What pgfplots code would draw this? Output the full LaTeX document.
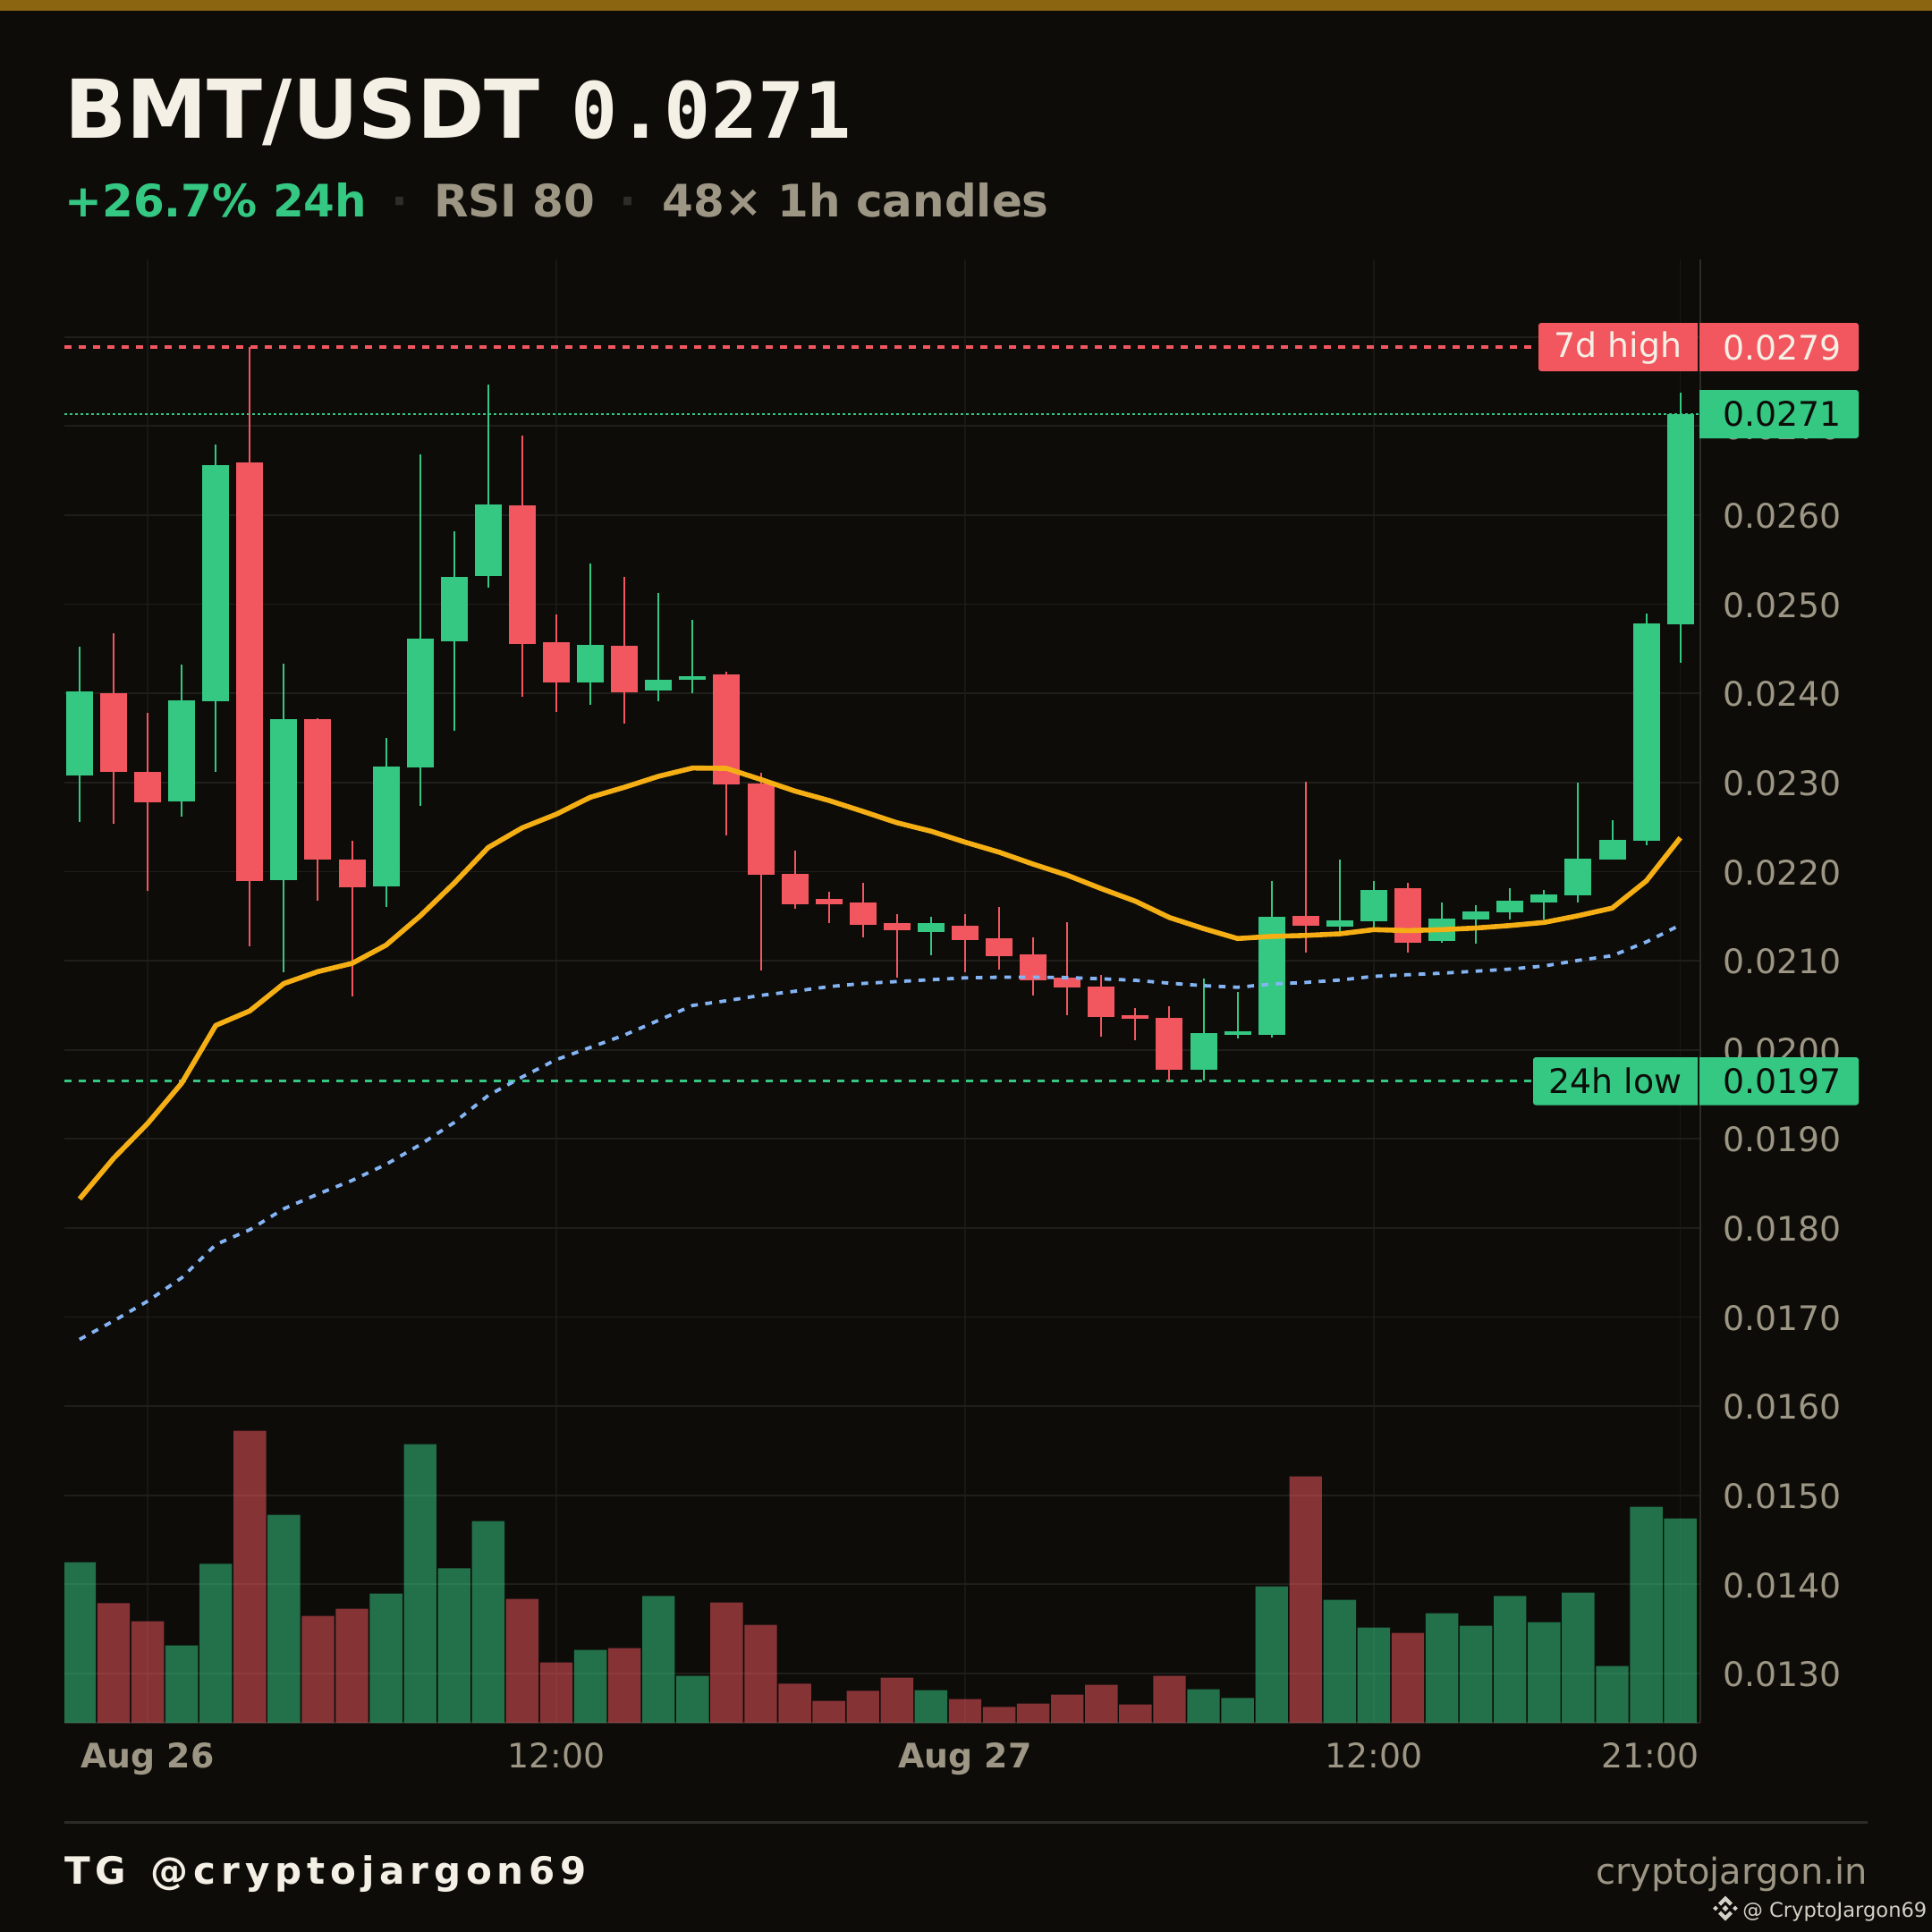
\documentclass[border=0pt]{standalone}
\usepackage{pgfplots}
\usepackage{pgfplotstable}
\usepackage{fontspec}
\pgfplotsset{compat=1.18}
\setmainfont{DejaVu Sans}
\newfontfamily\monofont{DejaVu Sans Mono}
\newfontfamily\tgfont[LetterSpace=14]{DejaVu Sans}
\definecolor{bg}{HTML}{0D0C09}
\definecolor{band}{HTML}{8C6510}
\definecolor{up}{HTML}{35C882}
\definecolor{down}{HTML}{F2575F}
\definecolor{gridc}{HTML}{1F1E1A}
\definecolor{gridv}{HTML}{191815}
\definecolor{axisc}{HTML}{2C2B26}
\definecolor{greyc}{HTML}{9D9684}
\definecolor{cream}{HTML}{F5F0E6}
\definecolor{orangec}{HTML}{F5AF14}
\definecolor{bluec}{HTML}{85B4F5}
\definecolor{dotc}{HTML}{2E2D28}
\definecolor{wmark}{HTML}{D3D0C6}
% i low bot top high
\pgfplotstableread{
i low bot top high
0 0.022552 0.023075 0.024017 0.024519
3 0.022614 0.022783 0.023925 0.024320
4 0.023116 0.023915 0.026558 0.026789
6 0.020872 0.021907 0.023715 0.024330
9 0.021599 0.021830 0.023182 0.023495
10 0.022732 0.023172 0.024612 0.026686
11 0.023577 0.024581 0.025303 0.025816
12 0.025191 0.025314 0.026118 0.027470
15 0.023869 0.024125 0.024540 0.025462
17 0.023915 0.024028 0.024156 0.025129
18 0.023997 0.024156 0.024197 0.024822
25 0.021064 0.021325 0.021417 0.021494
33 0.019658 0.019778 0.020190 0.020804
34 0.020130 0.020169 0.020211 0.020652
35 0.020141 0.020169 0.021494 0.021889
37 0.021336 0.021385 0.021455 0.022139
38 0.021371 0.021446 0.021797 0.021895
40 0.021204 0.021216 0.021475 0.021653
41 0.021187 0.021464 0.021556 0.021625
42 0.021464 0.021538 0.021676 0.021809
43 0.021458 0.021653 0.021746 0.021797
44 0.021653 0.021728 0.022149 0.023001
45 0.022130 0.022137 0.022356 0.022580
46 0.022298 0.022350 0.024785 0.024895
47 0.024342 0.024774 0.027130 0.027376
}\greentable
\pgfplotstableread{
i low bot top high
1 0.022532 0.023121 0.023997 0.024678
2 0.021779 0.022773 0.023116 0.023777
5 0.021164 0.021897 0.026589 0.027885
7 0.021676 0.022137 0.023715 0.023725
8 0.020595 0.021820 0.022137 0.022342
13 0.023966 0.024550 0.026108 0.026897
14 0.023787 0.024120 0.024571 0.024888
16 0.023664 0.024007 0.024530 0.025303
19 0.022404 0.022982 0.024208 0.024240
20 0.020885 0.021967 0.022992 0.023105
21 0.021586 0.021635 0.021977 0.022231
22 0.021417 0.021635 0.021695 0.021776
23 0.021265 0.021406 0.021656 0.021878
24 0.020814 0.021346 0.021417 0.021526
26 0.020874 0.021233 0.021396 0.021526
27 0.020902 0.021054 0.021255 0.021607
28 0.020613 0.020782 0.021075 0.021265
29 0.020391 0.020701 0.020814 0.021434
30 0.020148 0.020370 0.020712 0.020842
31 0.020109 0.020349 0.020391 0.020472
32 0.019644 0.019778 0.020359 0.020490
36 0.021093 0.021396 0.021505 0.023003
39 0.021095 0.021204 0.021809 0.021878
}\redtable
\pgfplotstableread{
i v
0 179.5
3 86.5
4 177.6
6 232.3
9 144.3
10 311.5
11 172.6
12 225.4
15 81.5
17 141.6
18 52.4
25 36.4
33 37.5
34 27.6
35 152.3
37 137.4
38 106.4
40 122.5
41 108.3
42 141.6
43 112.5
44 145.4
45 63.5
46 241.5
47 228.5
}\volgreen
\pgfplotstableread{
i v
1 133.6
2 113.3
5 326.4
7 119.4
8 127.4
13 138.5
14 67.4
16 83.4
19 134.3
20 109.5
21 43.6
22 24.5
23 35.6
24 50.5
26 26.4
27 17.6
28 21.4
29 31.4
30 42.5
31 20.3
32 52.4
36 275.5
39 100.3
}\volred
\pgfplotstableread{
i v
0 0.018325
1 0.018781
2 0.019172
3 0.019625
4 0.020273
5 0.020436
6 0.020743
7 0.020877
8 0.020969
9 0.021174
10 0.021501
11 0.021870
12 0.022270
13 0.022491
14 0.022644
15 0.022834
16 0.022946
17 0.023069
18 0.023162
19 0.023158
20 0.023034
21 0.022904
22 0.022798
23 0.022675
24 0.022548
25 0.022453
26 0.022330
27 0.022217
28 0.022083
29 0.021959
30 0.021808
31 0.021667
32 0.021484
33 0.021360
34 0.021248
35 0.021272
36 0.021283
37 0.021301
38 0.021348
39 0.021337
40 0.021348
41 0.021366
42 0.021394
43 0.021429
44 0.021504
45 0.021590
46 0.021895
47 0.022379
}\emafast
\pgfplotstableread{
i v
0 0.016748
1 0.016956
2 0.017178
3 0.017440
4 0.017813
5 0.017980
6 0.018215
7 0.018380
8 0.018533
9 0.018713
10 0.018934
11 0.019183
12 0.019487
13 0.019695
14 0.019889
15 0.020026
16 0.020165
17 0.020330
18 0.020497
19 0.020550
20 0.020610
21 0.020656
22 0.020708
23 0.020744
24 0.020765
25 0.020786
26 0.020807
27 0.020814
28 0.020814
29 0.020810
30 0.020796
31 0.020779
32 0.020747
33 0.020719
34 0.020701
35 0.020737
36 0.020755
37 0.020782
38 0.020824
39 0.020842
40 0.020859
41 0.020882
42 0.020905
43 0.020940
44 0.021003
45 0.021055
46 0.021210
47 0.021400
}\emaslow
\newcommand{\candles}[2]{%
  \addplot[draw=none,mark=none,forget plot,
    error bars/.cd,y dir=plus,y explicit,error mark=none,
    error bar style={draw=#2,line width=1pt}]
    table[x=i,y=low,y error plus expr=\thisrow{high}-\thisrow{low}] {#1};
  \addplot[draw=none,mark=none,forget plot,
    error bars/.cd,y dir=plus,y explicit,error mark=none,
    error bar style={draw=#2,line width=15pt}]
    table[x=i,y=bot,y error plus expr=\thisrow{top}-\thisrow{bot}] {#1};
}
\begin{document}
\begin{tikzpicture}
\fill[bg,use as bounding box] (0,0) rectangle (1080pt,-1080pt);
\fill[band] (0,0) rectangle (1080pt,-6pt);
\begin{axis}[
  at={(36pt,-963pt)},anchor=south west,
  width=914.5pt,height=818pt,scale only axis,
  xmin=-0.444,xmax=47.587,ymin=0.012446,ymax=0.028871,
  axis x line=bottom,axis y line=right,
  axis line style={-,draw=axisc,line width=1.2pt},
  major tick length=0pt,
  xmajorgrids=true,ymajorgrids=true,
  x grid style={draw=gridv,line width=0.7pt},
  y grid style={draw=gridc,line width=0.9pt},
  xtick={2,14,26,38,47},
  xticklabels={\bfseries Aug 26,12:00,\bfseries Aug 27,12:00,\makebox[0pt][r]{21:00\kern-10.5pt}},
  ytick={0.013,0.014,0.015,0.016,0.017,0.018,0.019,0.020,0.021,0.022,0.023,0.024,0.025,0.026,0.027,0.028},
  scaled y ticks=false,
  y tick label style={/pgf/number format/fixed,/pgf/number format/fixed zerofill,/pgf/number format/precision=4,
    /pgf/number format/assume math mode=true,anchor=west,inner sep=0pt,xshift=12.5pt,yshift=-0.5pt,
    font=\fontsize{18.9}{22}\selectfont,text=greyc},
  x tick label style={inner sep=0pt,anchor=base,yshift=-25pt,
    font=\fontsize{18.9}{22}\selectfont,text=greyc},
]
\addplot[down,line width=1.8pt,dash pattern=on 4pt off 4pt,forget plot] coordinates {(-0.444,0.027885)(42.8,0.027885)};
\addplot[up,line width=0.8pt,dash pattern=on 1.5pt off 1.5pt,forget plot] coordinates {(-0.444,0.027133)(47.587,0.027133)};
\addplot[up,line width=1.8pt,dash pattern=on 4pt off 4pt,forget plot] coordinates {(-0.444,0.019650)(42.7,0.019650)};
\candles{\greentable}{up}
\candles{\redtable}{down}
\addplot[bluec,line width=1.9pt,dash pattern=on 3.8pt off 4.2pt,forget plot] table[x=i,y=v] {\emaslow};
\addplot[orangec,line width=2.8pt,line join=round,forget plot] table[x=i,y=v] {\emafast};
\end{axis}
\begin{axis}[
  at={(36pt,-963pt)},anchor=south west,
  width=914.5pt,height=818pt,scale only axis,
  xmin=-0.444,xmax=47.587,ymin=0,ymax=1636,
  hide axis,
]
\addplot[ybar,bar width=18.2pt,bar shift=0pt,fill=up,fill opacity=0.54,draw=none,forget plot] table[x=i,y=v] {\volgreen};
\addplot[ybar,bar width=18.2pt,bar shift=0pt,fill=down,fill opacity=0.53,draw=none,forget plot] table[x=i,y=v] {\volred};
\end{axis}
\begin{scope}[x=0.5pt,y=-0.5pt]
\tikzset{txt/.style={inner sep=0pt,anchor=base west}}
\node[txt,text=cream] at (72,154) {\fontsize{45.4}{50}\selectfont\bfseries BMT/USDT};
\node[txt,text=cream] at (638,154) {\fontsize{43.4}{50}\selectfont\monofont\bfseries 0.0271};
\node[txt,text=up] at (72,242) {\fontsize{25}{28}\selectfont\bfseries +26.7\% 24h};
\node[inner sep=0pt,anchor=base,text=dotc] at (447,242) {\fontsize{25}{28}\selectfont\bfseries ·};
\node[txt,text=greyc] at (485,242) {\fontsize{25}{28}\selectfont\bfseries RSI 80};
\node[inner sep=0pt,anchor=base,text=dotc] at (702,242) {\fontsize{25}{28}\selectfont\bfseries ·};
\node[txt,text=greyc] at (740,242) {\fontsize{25}{28}\selectfont\bfseries 48× 1h candles};
% level labels: rounded on the outer side only
\fill[down,rounded corners=1.5pt] (1800,361) -- (1720,361) -- (1720,415) -- (1800,415) [sharp corners] -- (1898,415) -- (1898,361) -- cycle;
\fill[down,rounded corners=1.5pt] (2000,415) -- (2078,415) -- (2078,361) -- (2000,361) [sharp corners] -- (1900,361) -- (1900,415) -- cycle;
\fill[up,rounded corners=1.5pt] (2000,490) -- (2078,490) -- (2078,436) -- (2000,436) [sharp corners] -- (1900,436) -- (1900,490) -- cycle;
\fill[up,rounded corners=1.5pt] (1800,1182) -- (1714,1182) -- (1714,1235.5) -- (1800,1235.5) [sharp corners] -- (1898,1235.5) -- (1898,1182) -- cycle;
\fill[up,rounded corners=1.5pt] (2000,1235.5) -- (2078,1235.5) -- (2078,1182) -- (2000,1182) [sharp corners] -- (1900,1182) -- (1900,1235.5) -- cycle;
\tikzset{lab/.style={inner sep=0pt,anchor=base,font=\fontsize{18.9}{22}\selectfont}}
\node[lab,text=cream] at (1809,399) {7d high};
\node[lab,text=cream] at (1992.5,402) {0.0279};
\node[lab,text=bg] at (1992.5,476.5) {0.0271};
\node[lab,text=bg] at (1806,1222) {24h low};
\node[lab,text=bg] at (1992.5,1222) {0.0197};
% footer
\fill[axisc] (72,2036) rectangle (2088,2039);
\node[txt,text=cream] at (72,2106.5) {\fontsize{21}{25}\selectfont\tgfont\bfseries TG\hspace{3.5pt} @cryptojargon69};
\node[inner sep=0pt,anchor=base east,text=greyc] at (2088,2106.5) {\fontsize{20}{25}\selectfont cryptojargon.in};
\node[inner sep=0pt,anchor=base west,text=wmark] at (1948,2143.5) {\fontsize{11.3}{14}\selectfont @ CryptoJargon69};
\begin{scope}[shift={(1929,2133.5)}]
\fill[wmark] (0,-14) -- (8,-6) -- (5,-3) -- (0,-8) -- (-5,-3) -- (-8,-6) -- cycle;
\fill[wmark] (0,14) -- (8,6) -- (5,3) -- (0,8) -- (-5,3) -- (-8,6) -- cycle;
\fill[wmark] (0,-3.5) -- (3.5,0) -- (0,3.5) -- (-3.5,0) -- cycle;
\fill[wmark] (-11,-2.8) -- (-8.2,0) -- (-11,2.8) -- (-13.8,0) -- cycle;
\fill[wmark] (11,-2.8) -- (13.8,0) -- (11,2.8) -- (8.2,0) -- cycle;
\end{scope}
\end{scope}
\end{tikzpicture}
\end{document}
